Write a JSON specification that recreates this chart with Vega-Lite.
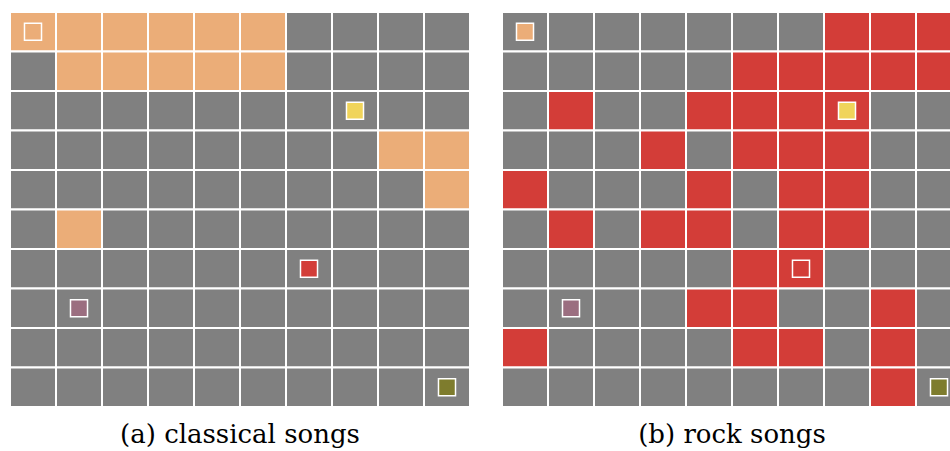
{
  "$schema": "https://vega.github.io/schema/vega-lite/v6.json",
  "padding": {"left": 8, "top": 10, "right": 0, "bottom": 0},
  "spacing": 32,
  "bounds": "flush",
  "config": {"view": {"stroke": "#cccccc", "strokeWidth": 1}, "title": {"font": "DejaVu Serif", "fontWeight": "normal", "fontSize": 26, "color": "#000000"}},
  "datasets": {
    "classical": [
      {"r":0,"c":0,"s":"orange"},{"r":0,"c":1,"s":"orange"},{"r":0,"c":2,"s":"orange"},{"r":0,"c":3,"s":"orange"},{"r":0,"c":4,"s":"orange"},{"r":0,"c":5,"s":"orange"},{"r":0,"c":6,"s":"gray"},{"r":0,"c":7,"s":"gray"},{"r":0,"c":8,"s":"gray"},{"r":0,"c":9,"s":"gray"},
      {"r":1,"c":0,"s":"gray"},{"r":1,"c":1,"s":"orange"},{"r":1,"c":2,"s":"orange"},{"r":1,"c":3,"s":"orange"},{"r":1,"c":4,"s":"orange"},{"r":1,"c":5,"s":"orange"},{"r":1,"c":6,"s":"gray"},{"r":1,"c":7,"s":"gray"},{"r":1,"c":8,"s":"gray"},{"r":1,"c":9,"s":"gray"},
      {"r":2,"c":0,"s":"gray"},{"r":2,"c":1,"s":"gray"},{"r":2,"c":2,"s":"gray"},{"r":2,"c":3,"s":"gray"},{"r":2,"c":4,"s":"gray"},{"r":2,"c":5,"s":"gray"},{"r":2,"c":6,"s":"gray"},{"r":2,"c":7,"s":"gray"},{"r":2,"c":8,"s":"gray"},{"r":2,"c":9,"s":"gray"},
      {"r":3,"c":0,"s":"gray"},{"r":3,"c":1,"s":"gray"},{"r":3,"c":2,"s":"gray"},{"r":3,"c":3,"s":"gray"},{"r":3,"c":4,"s":"gray"},{"r":3,"c":5,"s":"gray"},{"r":3,"c":6,"s":"gray"},{"r":3,"c":7,"s":"gray"},{"r":3,"c":8,"s":"orange"},{"r":3,"c":9,"s":"orange"},
      {"r":4,"c":0,"s":"gray"},{"r":4,"c":1,"s":"gray"},{"r":4,"c":2,"s":"gray"},{"r":4,"c":3,"s":"gray"},{"r":4,"c":4,"s":"gray"},{"r":4,"c":5,"s":"gray"},{"r":4,"c":6,"s":"gray"},{"r":4,"c":7,"s":"gray"},{"r":4,"c":8,"s":"gray"},{"r":4,"c":9,"s":"orange"},
      {"r":5,"c":0,"s":"gray"},{"r":5,"c":1,"s":"orange"},{"r":5,"c":2,"s":"gray"},{"r":5,"c":3,"s":"gray"},{"r":5,"c":4,"s":"gray"},{"r":5,"c":5,"s":"gray"},{"r":5,"c":6,"s":"gray"},{"r":5,"c":7,"s":"gray"},{"r":5,"c":8,"s":"gray"},{"r":5,"c":9,"s":"gray"},
      {"r":6,"c":0,"s":"gray"},{"r":6,"c":1,"s":"gray"},{"r":6,"c":2,"s":"gray"},{"r":6,"c":3,"s":"gray"},{"r":6,"c":4,"s":"gray"},{"r":6,"c":5,"s":"gray"},{"r":6,"c":6,"s":"gray"},{"r":6,"c":7,"s":"gray"},{"r":6,"c":8,"s":"gray"},{"r":6,"c":9,"s":"gray"},
      {"r":7,"c":0,"s":"gray"},{"r":7,"c":1,"s":"gray"},{"r":7,"c":2,"s":"gray"},{"r":7,"c":3,"s":"gray"},{"r":7,"c":4,"s":"gray"},{"r":7,"c":5,"s":"gray"},{"r":7,"c":6,"s":"gray"},{"r":7,"c":7,"s":"gray"},{"r":7,"c":8,"s":"gray"},{"r":7,"c":9,"s":"gray"},
      {"r":8,"c":0,"s":"gray"},{"r":8,"c":1,"s":"gray"},{"r":8,"c":2,"s":"gray"},{"r":8,"c":3,"s":"gray"},{"r":8,"c":4,"s":"gray"},{"r":8,"c":5,"s":"gray"},{"r":8,"c":6,"s":"gray"},{"r":8,"c":7,"s":"gray"},{"r":8,"c":8,"s":"gray"},{"r":8,"c":9,"s":"gray"},
      {"r":9,"c":0,"s":"gray"},{"r":9,"c":1,"s":"gray"},{"r":9,"c":2,"s":"gray"},{"r":9,"c":3,"s":"gray"},{"r":9,"c":4,"s":"gray"},{"r":9,"c":5,"s":"gray"},{"r":9,"c":6,"s":"gray"},{"r":9,"c":7,"s":"gray"},{"r":9,"c":8,"s":"gray"},{"r":9,"c":9,"s":"gray"}
    ],
    "rock": [
      {"r":0,"c":0,"s":"gray"},{"r":0,"c":1,"s":"gray"},{"r":0,"c":2,"s":"gray"},{"r":0,"c":3,"s":"gray"},{"r":0,"c":4,"s":"gray"},{"r":0,"c":5,"s":"gray"},{"r":0,"c":6,"s":"gray"},{"r":0,"c":7,"s":"red"},{"r":0,"c":8,"s":"red"},{"r":0,"c":9,"s":"red"},
      {"r":1,"c":0,"s":"gray"},{"r":1,"c":1,"s":"gray"},{"r":1,"c":2,"s":"gray"},{"r":1,"c":3,"s":"gray"},{"r":1,"c":4,"s":"gray"},{"r":1,"c":5,"s":"red"},{"r":1,"c":6,"s":"red"},{"r":1,"c":7,"s":"red"},{"r":1,"c":8,"s":"red"},{"r":1,"c":9,"s":"red"},
      {"r":2,"c":0,"s":"gray"},{"r":2,"c":1,"s":"red"},{"r":2,"c":2,"s":"gray"},{"r":2,"c":3,"s":"gray"},{"r":2,"c":4,"s":"red"},{"r":2,"c":5,"s":"red"},{"r":2,"c":6,"s":"red"},{"r":2,"c":7,"s":"red"},{"r":2,"c":8,"s":"gray"},{"r":2,"c":9,"s":"gray"},
      {"r":3,"c":0,"s":"gray"},{"r":3,"c":1,"s":"gray"},{"r":3,"c":2,"s":"gray"},{"r":3,"c":3,"s":"red"},{"r":3,"c":4,"s":"gray"},{"r":3,"c":5,"s":"red"},{"r":3,"c":6,"s":"red"},{"r":3,"c":7,"s":"red"},{"r":3,"c":8,"s":"gray"},{"r":3,"c":9,"s":"gray"},
      {"r":4,"c":0,"s":"red"},{"r":4,"c":1,"s":"gray"},{"r":4,"c":2,"s":"gray"},{"r":4,"c":3,"s":"gray"},{"r":4,"c":4,"s":"red"},{"r":4,"c":5,"s":"gray"},{"r":4,"c":6,"s":"red"},{"r":4,"c":7,"s":"red"},{"r":4,"c":8,"s":"gray"},{"r":4,"c":9,"s":"gray"},
      {"r":5,"c":0,"s":"gray"},{"r":5,"c":1,"s":"red"},{"r":5,"c":2,"s":"gray"},{"r":5,"c":3,"s":"red"},{"r":5,"c":4,"s":"red"},{"r":5,"c":5,"s":"gray"},{"r":5,"c":6,"s":"red"},{"r":5,"c":7,"s":"red"},{"r":5,"c":8,"s":"gray"},{"r":5,"c":9,"s":"gray"},
      {"r":6,"c":0,"s":"gray"},{"r":6,"c":1,"s":"gray"},{"r":6,"c":2,"s":"gray"},{"r":6,"c":3,"s":"gray"},{"r":6,"c":4,"s":"gray"},{"r":6,"c":5,"s":"red"},{"r":6,"c":6,"s":"red"},{"r":6,"c":7,"s":"gray"},{"r":6,"c":8,"s":"gray"},{"r":6,"c":9,"s":"gray"},
      {"r":7,"c":0,"s":"gray"},{"r":7,"c":1,"s":"gray"},{"r":7,"c":2,"s":"gray"},{"r":7,"c":3,"s":"gray"},{"r":7,"c":4,"s":"red"},{"r":7,"c":5,"s":"red"},{"r":7,"c":6,"s":"gray"},{"r":7,"c":7,"s":"gray"},{"r":7,"c":8,"s":"red"},{"r":7,"c":9,"s":"gray"},
      {"r":8,"c":0,"s":"red"},{"r":8,"c":1,"s":"gray"},{"r":8,"c":2,"s":"gray"},{"r":8,"c":3,"s":"gray"},{"r":8,"c":4,"s":"gray"},{"r":8,"c":5,"s":"red"},{"r":8,"c":6,"s":"red"},{"r":8,"c":7,"s":"gray"},{"r":8,"c":8,"s":"red"},{"r":8,"c":9,"s":"gray"},
      {"r":9,"c":0,"s":"gray"},{"r":9,"c":1,"s":"gray"},{"r":9,"c":2,"s":"gray"},{"r":9,"c":3,"s":"gray"},{"r":9,"c":4,"s":"gray"},{"r":9,"c":5,"s":"gray"},{"r":9,"c":6,"s":"gray"},{"r":9,"c":7,"s":"gray"},{"r":9,"c":8,"s":"red"},{"r":9,"c":9,"s":"gray"}
    ],
    "markers": [
      {"r":0,"c":0,"s":"orange"},
      {"r":2,"c":7,"s":"yellow"},
      {"r":6,"c":6,"s":"red"},
      {"r":7,"c":1,"s":"mauve"},
      {"r":9,"c":9,"s":"olive"}
    ]
  },
  "hconcat": [
    {
      "width": 460,
      "height": 395,
      "title": {"text": "(a) classical songs", "orient": "bottom", "anchor": "middle", "offset": 14, "fontSize": 26, "font": "DejaVu Serif", "fontWeight": "normal", "color": "#000000"},
      "layer": [
        {
          "data": {"name": "classical"},
          "mark": {"type": "rect", "stroke": "white", "strokeWidth": 2},
          "encoding": {
            "x": {"field": "c", "type": "ordinal", "axis": null, "scale": {"paddingInner": 0, "paddingOuter": 0}},
            "y": {"field": "r", "type": "ordinal", "axis": null, "scale": {"paddingInner": 0, "paddingOuter": 0}},
            "fill": {"field": "s", "type": "nominal", "legend": null, "scale": {"domain": ["gray", "orange", "red", "yellow", "mauve", "olive"], "range": ["#808080", "#EBAD78", "#D33D38", "#F0D45A", "#9B6E80", "#7E7C2D"]}}
          }
        },
        {
          "data": {"name": "markers"},
          "mark": {"type": "square", "filled": true, "opacity": 1, "stroke": "white", "strokeWidth": 1.5, "size": 290},
          "encoding": {
            "x": {"field": "c", "type": "ordinal", "axis": null},
            "y": {"field": "r", "type": "ordinal", "axis": null},
            "fill": {"field": "s", "type": "nominal", "legend": null}
          }
        }
      ]
    },
    {
      "width": 460,
      "height": 395,
      "title": {"text": "(b) rock songs", "orient": "bottom", "anchor": "middle", "offset": 14, "fontSize": 26, "font": "DejaVu Serif", "fontWeight": "normal", "color": "#000000"},
      "layer": [
        {
          "data": {"name": "rock"},
          "mark": {"type": "rect", "stroke": "white", "strokeWidth": 2},
          "encoding": {
            "x": {"field": "c", "type": "ordinal", "axis": null, "scale": {"paddingInner": 0, "paddingOuter": 0}},
            "y": {"field": "r", "type": "ordinal", "axis": null, "scale": {"paddingInner": 0, "paddingOuter": 0}},
            "fill": {"field": "s", "type": "nominal", "legend": null, "scale": {"domain": ["gray", "orange", "red", "yellow", "mauve", "olive"], "range": ["#808080", "#EBAD78", "#D33D38", "#F0D45A", "#9B6E80", "#7E7C2D"]}}
          }
        },
        {
          "data": {"name": "markers"},
          "mark": {"type": "square", "filled": true, "opacity": 1, "stroke": "white", "strokeWidth": 1.5, "size": 290},
          "encoding": {
            "x": {"field": "c", "type": "ordinal", "axis": null},
            "y": {"field": "r", "type": "ordinal", "axis": null},
            "fill": {"field": "s", "type": "nominal", "legend": null}
          }
        }
      ]
    }
  ]
}
